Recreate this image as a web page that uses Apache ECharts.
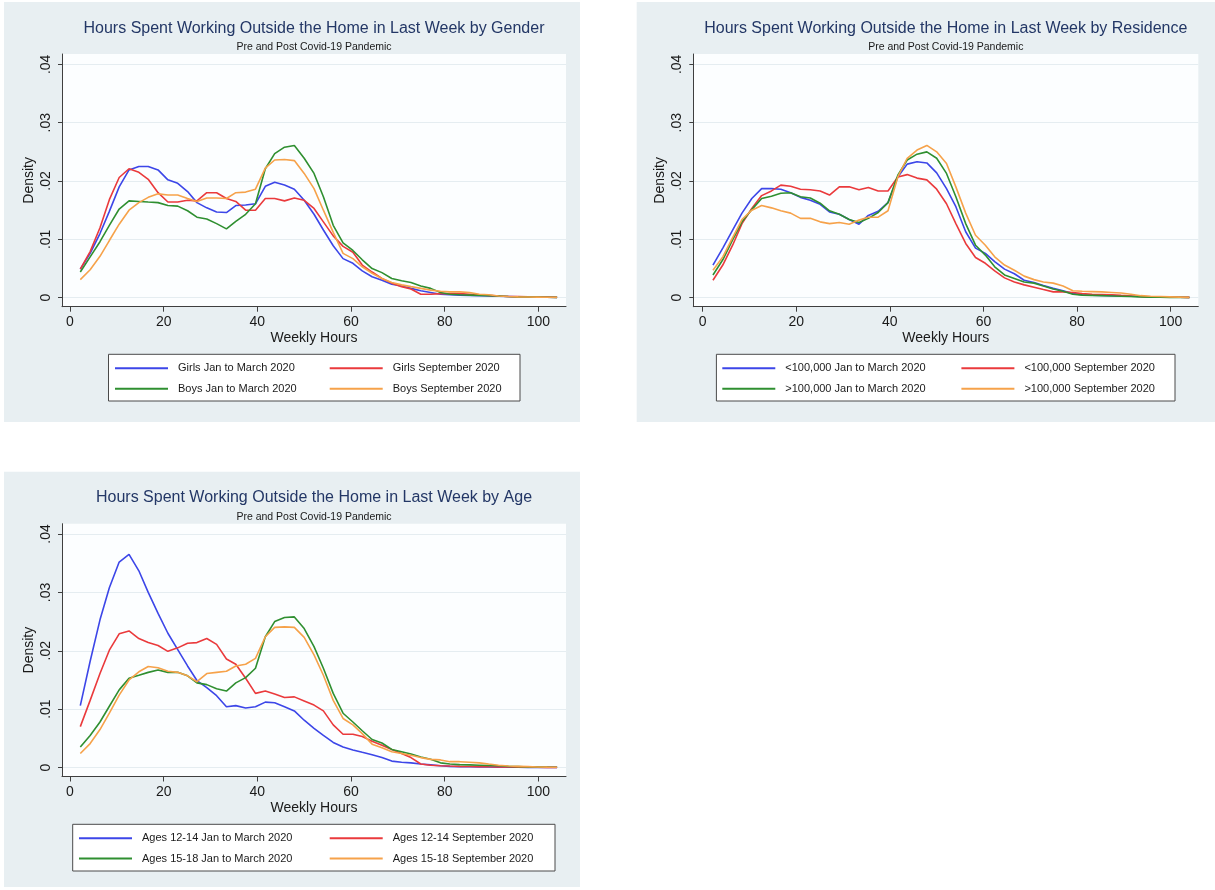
<!DOCTYPE html>
<html>
<head>
<meta charset="utf-8">
<script src="https://cdn.jsdelivr.net/npm/echarts@6/dist/echarts.min.js"></script>
<style>
  html, body { margin: 0; padding: 0; background: #ffffff; }
  #chart { width: 1215px; height: 890px; }
</style>
</head>
<body>
<div id="chart"></div>
<script>
// Kernel density estimates of weekly hours worked outside the home (50 evaluation points).
const hours = [2.2, 4.3, 6.4, 8.4, 10.5, 12.6, 14.7, 16.7, 18.8, 20.9,
  23.0, 25.1, 27.1, 29.2, 31.3, 33.4, 35.4, 37.5, 39.6, 41.7,
  43.7, 45.8, 47.9, 50.0, 52.1, 54.1, 56.2, 58.3, 60.4, 62.4,
  64.5, 66.6, 68.7, 70.8, 72.8, 74.9, 77.0, 79.1, 81.1, 83.2,
  85.3, 87.4, 89.4, 91.5, 93.6, 95.7, 97.8, 99.8, 101.9, 104.0];

const xTicks = [0, 20, 40, 60, 80, 100];
const yTicks = [0, 0.01, 0.02, 0.03, 0.04];

// --- by gender ---
const girlsJanMar = [0.0049, 0.0076, 0.0110, 0.0148, 0.0190, 0.0219, 0.0225, 0.0225, 0.0219, 0.0202,
  0.0196, 0.0182, 0.0163, 0.0154, 0.0147, 0.0146, 0.0158, 0.0159, 0.0161, 0.0191,
  0.0198, 0.0193, 0.0186, 0.0167, 0.0143, 0.0116, 0.0089, 0.0067, 0.0059, 0.0046,
  0.0036, 0.0030, 0.0023, 0.0020, 0.0016, 0.0012, 0.0009, 0.0006, 0.0005, 0.00045,
  0.0004, 0.00035, 0.0003, 0.00025, 0.0002, 0.00015, 0.00012, 0.0001, 0.00008, 0.00005];
const girlsSep = [0.0049, 0.0079, 0.0120, 0.0168, 0.0206, 0.0221, 0.0215, 0.0203, 0.0180, 0.0164,
  0.0164, 0.0167, 0.0166, 0.0180, 0.0180, 0.0170, 0.0165, 0.0150, 0.0150, 0.0170,
  0.0170, 0.0166, 0.0171, 0.0167, 0.0153, 0.0130, 0.0106, 0.0088, 0.0078, 0.0056,
  0.0044, 0.0033, 0.0025, 0.0019, 0.0015, 0.0006, 0.0006, 0.0007, 0.0007, 0.0007,
  0.0006, 0.0005, 0.0004, 0.0003, 0.0002, 0.00018, 0.00015, 0.00012, 0.0001, 0.00008];
const boysJanMar = [0.0044, 0.0070, 0.0096, 0.0124, 0.0152, 0.0166, 0.0165, 0.0164, 0.0163, 0.0158,
  0.0157, 0.0149, 0.0138, 0.0135, 0.0127, 0.0118, 0.0131, 0.0143, 0.0161, 0.0221,
  0.0247, 0.0258, 0.0261, 0.0239, 0.0213, 0.0173, 0.0124, 0.0094, 0.0081, 0.0065,
  0.0050, 0.0043, 0.0033, 0.0029, 0.0026, 0.0020, 0.0016, 0.0009, 0.0006, 0.0005,
  0.00045, 0.0004, 0.00035, 0.0003, 0.0002, 0.00015, 0.00012, 0.0001, 0.00008, 0.00005];
const boysSep = [0.0031, 0.0048, 0.0071, 0.0098, 0.0126, 0.0150, 0.0163, 0.0172, 0.0178, 0.0176,
  0.0176, 0.0170, 0.0165, 0.0171, 0.0171, 0.0170, 0.0180, 0.0181, 0.0186, 0.0222,
  0.0236, 0.0237, 0.0235, 0.0213, 0.0187, 0.0150, 0.0112, 0.0076, 0.0067, 0.0053,
  0.0042, 0.0033, 0.0026, 0.0022, 0.0019, 0.0016, 0.0013, 0.0011, 0.0010, 0.0010,
  0.0009, 0.0006, 0.0005, 0.0003, 0.0002, 0.00015, 0.00012, 0.0001, 0.00008, 0.00005];

// --- by residence (community size) ---
const smallJanMar = [0.0056, 0.0085, 0.0116, 0.0145, 0.0170, 0.0187, 0.0187, 0.0186, 0.0180, 0.0172,
  0.0167, 0.0160, 0.0147, 0.0143, 0.0134, 0.0126, 0.0141, 0.0148, 0.0163, 0.0207,
  0.0229, 0.0233, 0.0231, 0.0214, 0.0187, 0.0156, 0.0113, 0.0085, 0.0076, 0.0062,
  0.0049, 0.0041, 0.0030, 0.0026, 0.0021, 0.0016, 0.0012, 0.0007, 0.0005, 0.00045,
  0.0004, 0.00035, 0.0003, 0.00025, 0.0002, 0.00015, 0.00012, 0.0001, 0.00008, 0.00005];
const smallSep = [0.0030, 0.0056, 0.0090, 0.0127, 0.0153, 0.0175, 0.0183, 0.0193, 0.0191, 0.0186,
  0.0185, 0.0183, 0.0176, 0.0190, 0.0190, 0.0185, 0.0189, 0.0183, 0.0183, 0.0207,
  0.0211, 0.0205, 0.0202, 0.0186, 0.0161, 0.0127, 0.0093, 0.0069, 0.0059, 0.0046,
  0.0034, 0.0027, 0.0022, 0.0018, 0.0014, 0.0010, 0.0010, 0.0009, 0.0007, 0.0006,
  0.00055, 0.0005, 0.0004, 0.0003, 0.0002, 0.00015, 0.00012, 0.0001, 0.00008, 0.00005];
const largeJanMar = [0.0039, 0.0065, 0.0099, 0.0130, 0.0151, 0.0170, 0.0174, 0.0179, 0.0180, 0.0173,
  0.0171, 0.0162, 0.0149, 0.0143, 0.0134, 0.0129, 0.0136, 0.0146, 0.0163, 0.0210,
  0.0236, 0.0246, 0.0250, 0.0239, 0.0213, 0.0173, 0.0127, 0.0090, 0.0073, 0.0053,
  0.0039, 0.0033, 0.0027, 0.0025, 0.0020, 0.0015, 0.0011, 0.0006, 0.00045, 0.0004,
  0.00035, 0.0003, 0.00025, 0.0002, 0.00015, 0.0001, 0.00008, 0.00006, 0.00005, 0.00004];
const largeSep = [0.0047, 0.0070, 0.0103, 0.0134, 0.0150, 0.0158, 0.0154, 0.0149, 0.0145, 0.0136,
  0.0136, 0.0130, 0.0127, 0.0129, 0.0126, 0.0133, 0.0138, 0.0138, 0.0149, 0.0207,
  0.0239, 0.0253, 0.0261, 0.0250, 0.0230, 0.0190, 0.0145, 0.0107, 0.0090, 0.0070,
  0.0056, 0.0047, 0.0037, 0.0031, 0.0027, 0.0025, 0.0020, 0.0012, 0.0011, 0.00105,
  0.0010, 0.0009, 0.0008, 0.0006, 0.00035, 0.00025, 0.0002, 0.00015, 0.0001, 0.00005];

// --- by age group ---
const youngJanMar = [0.0106, 0.0182, 0.0253, 0.0308, 0.0352, 0.0365, 0.0337, 0.0300, 0.0264, 0.0230,
  0.0202, 0.0174, 0.0149, 0.0137, 0.0123, 0.0104, 0.0106, 0.0102, 0.0104, 0.0112,
  0.0111, 0.0104, 0.0097, 0.0081, 0.0067, 0.0055, 0.0043, 0.0035, 0.0030, 0.0026,
  0.0022, 0.0017, 0.0011, 0.0009, 0.0008, 0.0006, 0.00045, 0.0003, 0.0002, 0.00015,
  0.00012, 0.0001, 0.00008, 0.00006, 0.00005, 0.00004, 0.00003, 0.00002, 0.00002, 0.00002];
const youngSep = [0.0070, 0.0115, 0.0161, 0.0201, 0.0229, 0.0234, 0.0221, 0.0214, 0.0209, 0.0199,
  0.0205, 0.0213, 0.0214, 0.0221, 0.0211, 0.0186, 0.0177, 0.0153, 0.0127, 0.0131,
  0.0126, 0.0120, 0.0121, 0.0114, 0.0107, 0.0097, 0.0073, 0.0057, 0.0057, 0.0053,
  0.0045, 0.0038, 0.0031, 0.0024, 0.0017, 0.0006, 0.0004, 0.0003, 0.00025, 0.0002,
  0.00018, 0.00015, 0.00012, 0.0001, 0.00008, 0.00006, 0.00005, 0.00004, 0.00003, 0.00002];
const olderJanMar = [0.0035, 0.0055, 0.0078, 0.0105, 0.0133, 0.0153, 0.0158, 0.0163, 0.0167, 0.0163,
  0.0163, 0.0157, 0.0145, 0.0142, 0.0135, 0.0131, 0.0145, 0.0154, 0.0170, 0.0224,
  0.0250, 0.0257, 0.0258, 0.0238, 0.0207, 0.0170, 0.0127, 0.0093, 0.0078, 0.0063,
  0.0048, 0.0042, 0.0031, 0.0027, 0.0023, 0.0018, 0.0014, 0.0008, 0.0006, 0.0005,
  0.00045, 0.0004, 0.00035, 0.0003, 0.0002, 0.00015, 0.0001, 0.00008, 0.00006, 0.00005];
const olderSep = [0.0024, 0.0041, 0.0065, 0.0093, 0.0124, 0.0150, 0.0164, 0.0173, 0.0171, 0.0165,
  0.0163, 0.0157, 0.0147, 0.0161, 0.0163, 0.0165, 0.0174, 0.0177, 0.0187, 0.0224,
  0.0240, 0.0241, 0.0240, 0.0223, 0.0193, 0.0158, 0.0115, 0.0084, 0.0073, 0.0058,
  0.0040, 0.0034, 0.0027, 0.0024, 0.0021, 0.0017, 0.0014, 0.0013, 0.0010, 0.0010,
  0.0009, 0.0008, 0.0006, 0.0004, 0.00025, 0.0002, 0.00015, 0.0001, 0.00006, 0.00004];

const FONT = '"Liberation Sans", Arial, Helvetica, sans-serif';
const COLORS = { blue: '#3c46e8', red: '#ea3a3c', green: '#2f8f30', orange: '#f6a24a' };
const SUBTITLE = 'Pre and Post Covid-19 Pandemic';

const panels = [
  {
    title: 'Hours Spent Working Outside the Home in Last Week by Gender',
    bg: [4, 2, 576, 420], plot: [62, 54, 504, 252.7], xRange: [-1.71, 105.9],
    box: [108.5, 354.3, 411.5, 46.7], cols: [115, 329.7], rows: [368.3, 388.7],
    lines: [
      { name: 'Girls Jan to March 2020', values: girlsJanMar, color: COLORS.blue, col: 0, row: 0 },
      { name: 'Girls September 2020', values: girlsSep, color: COLORS.red, col: 1, row: 0 },
      { name: 'Boys Jan to March 2020', values: boysJanMar, color: COLORS.green, col: 0, row: 1 },
      { name: 'Boys September 2020', values: boysSep, color: COLORS.orange, col: 1, row: 1 }
    ]
  },
  {
    title: 'Hours Spent Working Outside the Home in Last Week by Residence',
    bg: [636.7, 2, 578.3, 420], plot: [693.3, 54, 505, 252.7], xRange: [-2.0, 105.9],
    box: [716.4, 354.3, 458.6, 46.7], cols: [722.3, 961.4], rows: [368.3, 388.7],
    lines: [
      { name: '<100,000 Jan to March 2020', values: smallJanMar, color: COLORS.blue, col: 0, row: 0 },
      { name: '<100,000 September 2020', values: smallSep, color: COLORS.red, col: 1, row: 0 },
      { name: '>100,000 Jan to March 2020', values: largeJanMar, color: COLORS.green, col: 0, row: 1 },
      { name: '>100,000 September 2020', values: largeSep, color: COLORS.orange, col: 1, row: 1 }
    ]
  },
  {
    title: 'Hours Spent Working Outside the Home in Last Week by Age',
    bg: [4, 471.7, 576, 415.3], plot: [62, 523.7, 504, 252.8], xRange: [-1.71, 105.9],
    box: [72.7, 824.3, 482.3, 46.7], cols: [79, 329.7], rows: [838.2, 858.5],
    lines: [
      { name: 'Ages 12-14 Jan to March 2020', values: youngJanMar, color: COLORS.blue, col: 0, row: 0 },
      { name: 'Ages 12-14 September 2020', values: youngSep, color: COLORS.red, col: 1, row: 0 },
      { name: 'Ages 15-18 Jan to March 2020', values: olderJanMar, color: COLORS.green, col: 0, row: 1 },
      { name: 'Ages 15-18 September 2020', values: olderSep, color: COLORS.orange, col: 1, row: 1 }
    ]
  }
];

const Y_RANGE = [-0.00154, 0.04177];
const axisColor = '#3f3f3f';

const option = {
  animation: false,
  backgroundColor: '#ffffff',
  title: [], grid: [], xAxis: [], yAxis: [], series: [], legend: [], graphic: []
};

panels.forEach((p, i) => {
  const [gl, gt, gw, gh] = p.plot;
  const cx = gl + gw / 2;

  // panel backdrop and legend frame
  option.graphic.push({
    type: 'rect', silent: true, z: -10,
    shape: { x: p.bg[0], y: p.bg[1], width: p.bg[2], height: p.bg[3] },
    style: { fill: '#e8eff2' }
  });
  option.graphic.push({
    type: 'rect', silent: true, z: 1,
    shape: { x: p.box[0], y: p.box[1], width: p.box[2], height: p.box[3] },
    style: { fill: '#ffffff', stroke: '#4a4a4a', lineWidth: 1 }
  });

  option.title.push({
    text: p.title, left: cx, top: gt - 35.8, textAlign: 'center', padding: 0,
    textStyle: { fontFamily: FONT, fontSize: 16, fontWeight: 'normal', color: '#233766', lineHeight: 20 }
  });
  option.title.push({
    text: SUBTITLE, left: cx, top: gt - 14, textAlign: 'center', padding: 0,
    textStyle: { fontFamily: FONT, fontSize: 10.5, fontWeight: 'normal', color: '#1a1a1a', lineHeight: 14 }
  });

  option.grid.push({
    left: gl, top: gt, width: gw, height: gh,
    show: true, backgroundColor: '#fcfeff', borderWidth: 0,
    containLabel: false, outerBoundsMode: 'none'
  });

  option.xAxis.push({
    type: 'value', gridIndex: i, min: p.xRange[0], max: p.xRange[1],
    name: 'Weekly Hours', nameLocation: 'middle', nameGap: 24.5,
    nameTextStyle: { fontFamily: FONT, fontSize: 14, color: '#1a1a1a' },
    axisLine: { show: true, onZero: false, lineStyle: { color: axisColor, width: 1 } },
    axisTick: { show: true, inside: false, length: 5, customValues: xTicks, lineStyle: { color: axisColor } },
    axisLabel: { show: true, margin: 8.5, customValues: xTicks, fontFamily: FONT, fontSize: 14, color: '#1a1a1a' },
    splitLine: { show: false }
  });

  option.yAxis.push({
    type: 'value', gridIndex: i, min: Y_RANGE[0], max: Y_RANGE[1],
    name: 'Density', nameLocation: 'middle', nameGap: 26, nameRotate: 90,
    nameTextStyle: { fontFamily: FONT, fontSize: 14, color: '#1a1a1a' },
    axisLine: { show: true, onZero: false, lineStyle: { color: axisColor, width: 1 } },
    axisTick: { show: true, inside: false, length: 4, customValues: yTicks, lineStyle: { color: axisColor } },
    axisLabel: {
      show: true, rotate: 90, margin: 9, customValues: yTicks,
      fontFamily: FONT, fontSize: 14, color: '#1a1a1a',
      formatter: v => (v === 0 ? '0' : String(v).replace(/^0/, ''))
    },
    splitLine: { show: true, lineStyle: { color: '#e5edf1', width: 1.2 } }
  });

  p.lines.forEach(l => {
    option.series.push({
      type: 'line', name: l.name, xAxisIndex: i, yAxisIndex: i,
      data: hours.map((h, k) => [h, l.values[k]]),
      symbol: 'none', smooth: false, clip: true,
      color: l.color,
      lineStyle: { color: l.color, width: 1.6 },
      emphasis: { disabled: true }
    });
    option.legend.push({
      data: [l.name], left: p.cols[l.col], top: p.rows[l.row] - 7,
      padding: 0, itemGap: 0, itemWidth: 53, itemHeight: 2, icon: 'rect',
      selectedMode: false, z: 4,
      textStyle: { fontFamily: FONT, fontSize: 11, color: '#1a1a1a', lineHeight: 14, padding: [0, 0, 0, 5] }
    });
  });
});

const chart = echarts.init(document.getElementById('chart'), null, { renderer: 'canvas' });
chart.setOption(option);
</script>
</body>
</html>
